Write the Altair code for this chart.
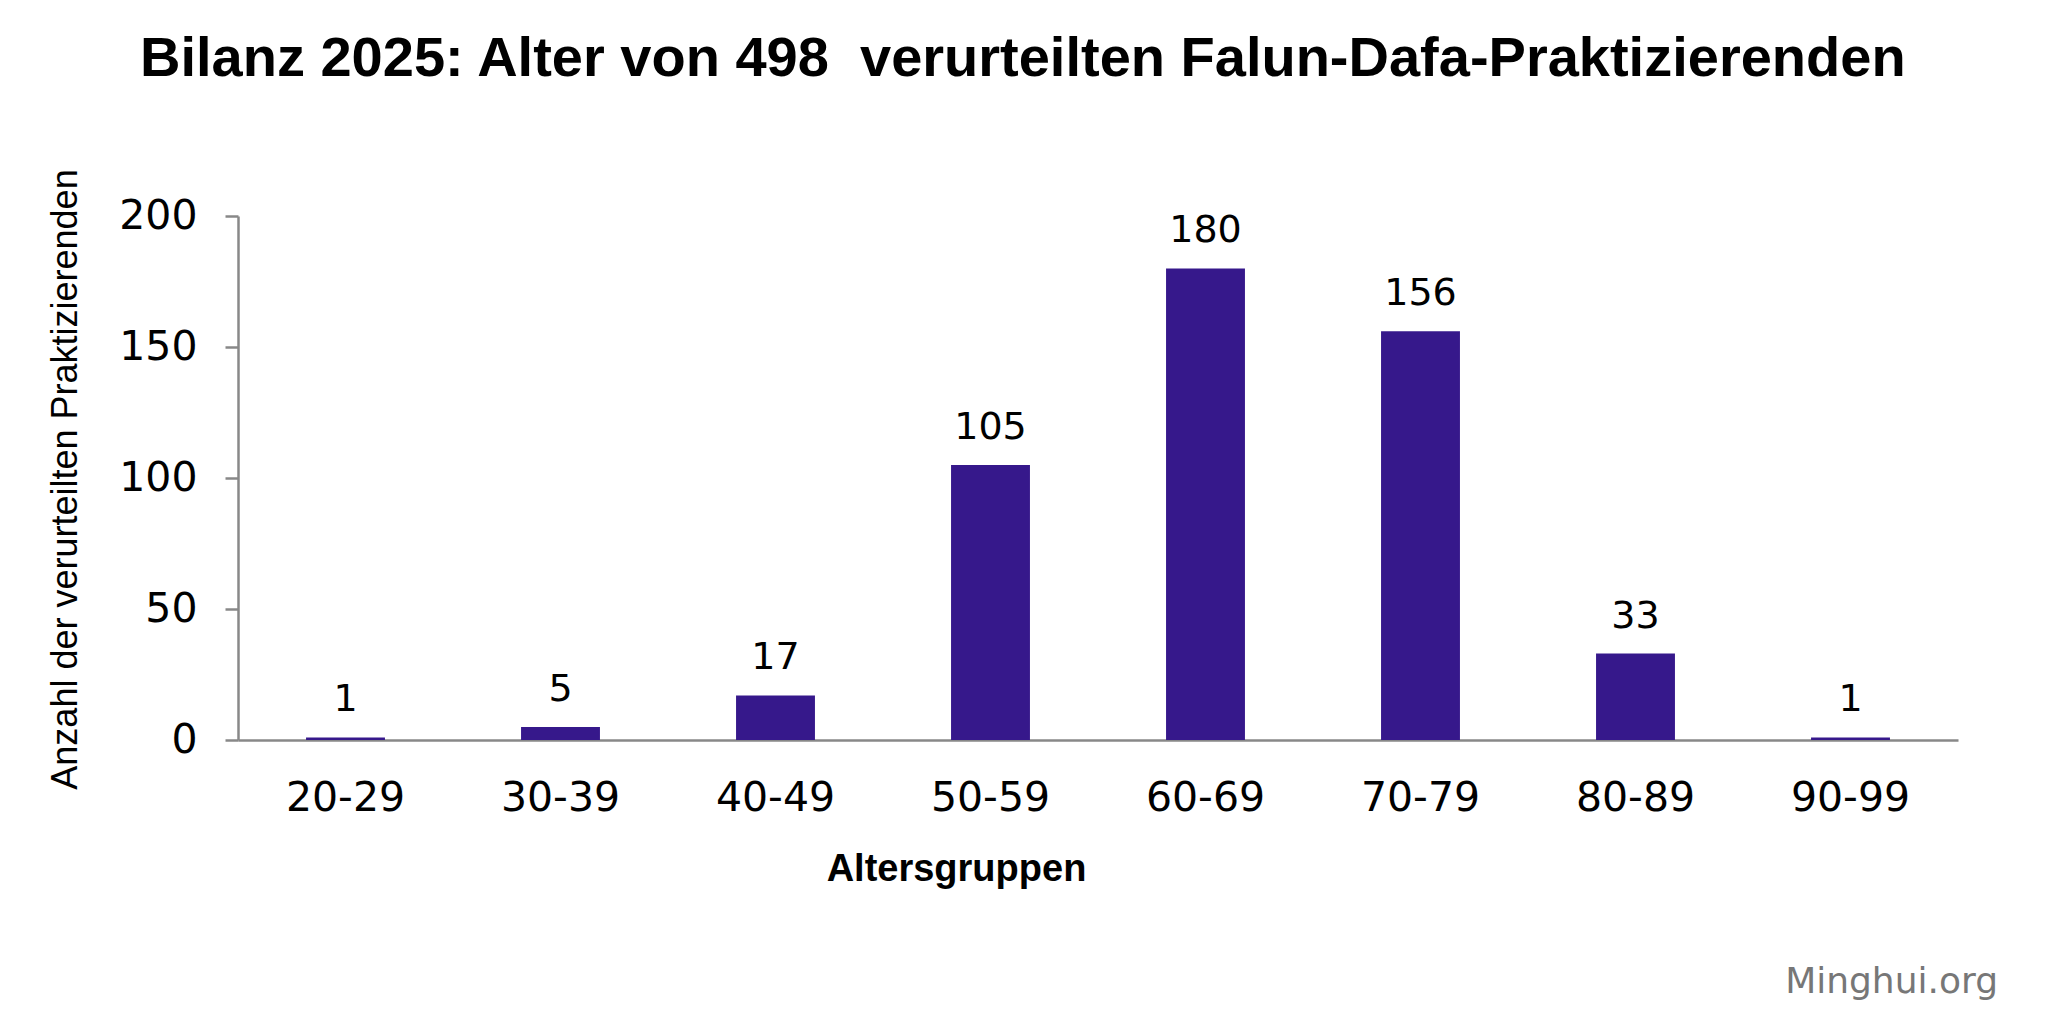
import altair as alt
import pandas as pd

age_groups = ["20-29", "30-39", "40-49", "50-59", "60-69", "70-79", "80-89", "90-99"]
counts = [1, 5, 17, 105, 180, 156, 33, 1]
y_ticks = [0, 50, 100, 150, 200]

title_text = "Bilanz 2025: Alter von 498\u00a0 verurteilten Falun-Dafa-Praktizierenden"
x_title = "Altersgruppen"
y_title = "Anzahl der verurteilten Praktizierenden"
source_text = "Minghui.org"

df = pd.DataFrame({"group": age_groups, "count": counts})

W, H = 1720, 524
AXIS_GRAY = "#888888"
BAR_COLOR = "#36188b"

x_enc = alt.X(
    "group:N",
    sort=age_groups,
    scale=alt.Scale(paddingInner=0.633, paddingOuter=0.3165),
    axis=alt.Axis(
        title=x_title,
        titleFont="Liberation Sans",
        titleFontWeight="bold",
        titleFontSize=38,
        titleColor="black",
        titleX=718,
        titleY=140,
        titleAlign="center",
        titleBaseline="alphabetic",
        labelFont="DejaVu Sans",
        labelFontSize=41,
        labelColor="black",
        labelAngle=0,
        labelBaseline="alphabetic",
        labelPadding=70,
        ticks=False,
        tickSize=0,
        domainColor=AXIS_GRAY,
        domainWidth=2.5,
        grid=False,
    ),
)

y_enc = alt.Y(
    "count:Q",
    scale=alt.Scale(domain=[0, 200], nice=False),
    axis=alt.Axis(
        title=y_title,
        values=y_ticks,
        titleFont="Liberation Sans",
        titleFontWeight="normal",
        titleFontSize=36,
        titleColor="black",
        titleAngle=270,
        titleX=-173,
        titleY=263,
        titleAlign="center",
        titleBaseline="middle",
        labelFont="DejaVu Sans",
        labelFontSize=41,
        labelColor="black",
        labelPadding=28,
        labelBaseline="middle",
        tickSize=13,
        tickWidth=2.5,
        tickColor=AXIS_GRAY,
        domainColor=AXIS_GRAY,
        domainWidth=2.5,
        grid=False,
    ),
)

base = alt.Chart(df)
bars = base.mark_bar(color=BAR_COLOR).encode(x=x_enc, y=y_enc)
labels = base.mark_text(
    font="DejaVu Sans", fontSize=38, color="black", baseline="alphabetic", dy=-26
).encode(x=alt.X("group:N", sort=age_groups), y="count:Q", text="count:Q")

title_layer = alt.Chart(pd.DataFrame({"t": [title_text]})).mark_text(
    font="Liberation Sans", fontWeight="bold", fontSize=56, color="black",
    align="left", baseline="alphabetic"
).encode(text="t:N", x=alt.value(-98), y=alt.value(-140))

source_layer = alt.Chart(pd.DataFrame({"t": [source_text]})).mark_text(
    font="DejaVu Sans", fontSize=36, color="#777777",
    align="right", baseline="alphabetic"
).encode(text="t:N", x=alt.value(1760), y=alt.value(777))

chart = (
    alt.layer(bars, labels, title_layer, source_layer)
    .properties(
        width=W,
        height=H,
        autosize=alt.AutoSizeParams(type="none"),
        padding={"left": 230, "top": 208, "right": 70, "bottom": 270},
        background="white",
    )
    .configure_view(stroke=None)
)

chart.save("out.html", embed_options={"renderer": "svg", "actions": False})
